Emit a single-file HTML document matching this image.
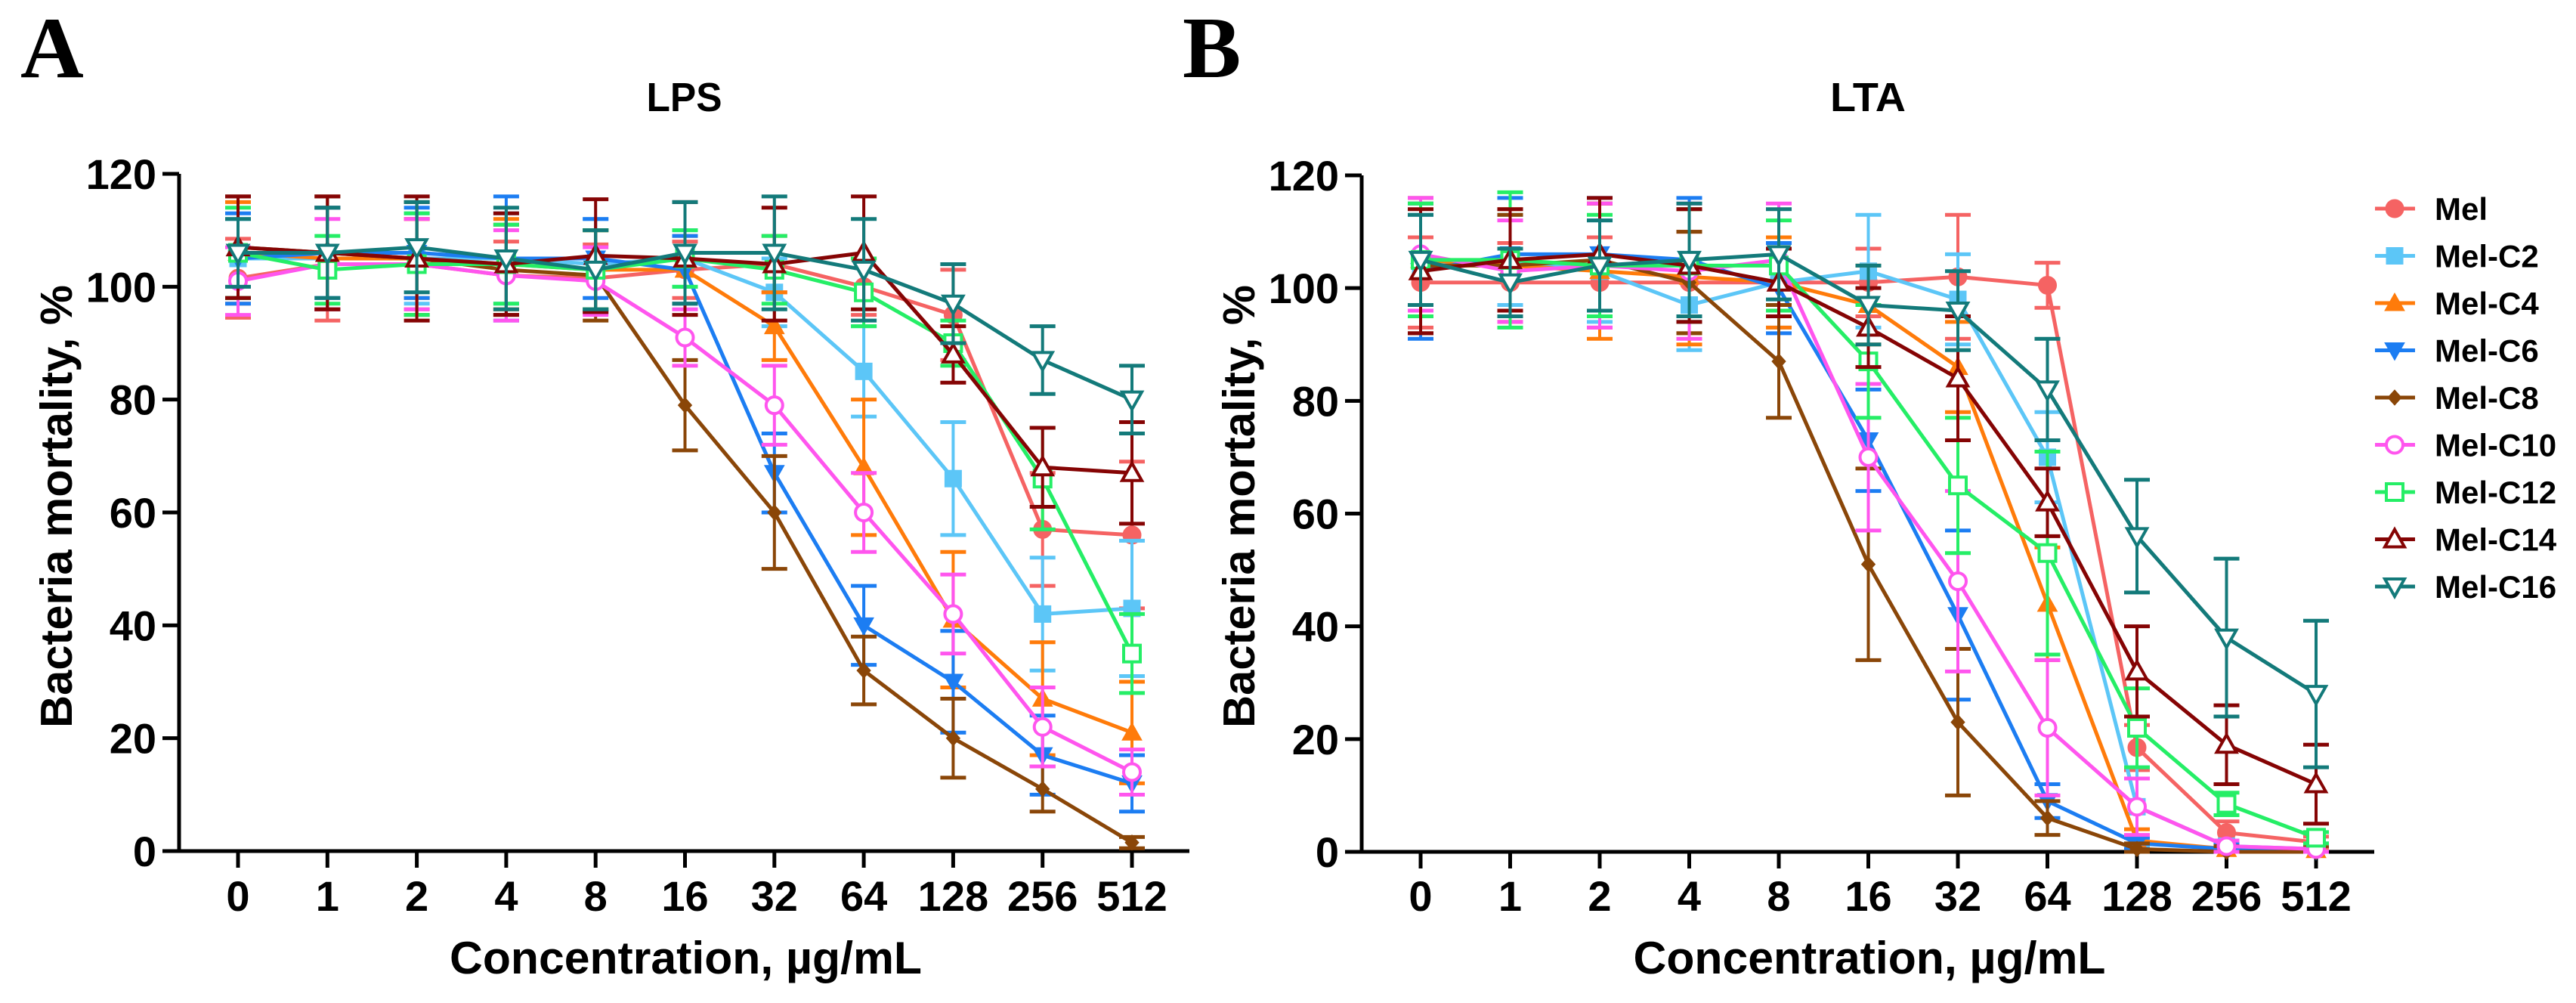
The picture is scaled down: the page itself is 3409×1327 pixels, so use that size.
<!DOCTYPE html>
<html><head><meta charset="utf-8">
<style>
html,body{margin:0;padding:0;background:#fff;}
svg{display:block;font-family:"Liberation Sans",Arial,sans-serif;}
</style></head>
<body>
<svg id="fig" width="3409" height="1327" viewBox="0 0 3409 1327" xmlns="http://www.w3.org/2000/svg">
<text x="27" y="102" font-family="Liberation Serif, serif" font-weight="bold" font-size="116">A</text>
<text x="1565" y="102" font-family="Liberation Serif, serif" font-weight="bold" font-size="116">B</text>
<g id="panelA"></g>
<g id="panelB"></g>
<g id="legend"></g>
</svg>
<script>
const categories = ["0","1","2","4","8","16","32","64","128","256","512"];
const yTicks = [0,20,40,60,80,100,120];
const seriesNames = ["Mel","Mel-C2","Mel-C4","Mel-C6","Mel-C8","Mel-C10","Mel-C12","Mel-C14","Mel-C16"];
const seriesColors = ["#f56363","#5cc6f7","#ff7b0a","#1c7df2","#8a4608","#ff55ee","#25ee66","#850404","#137a7a"];
const seriesMarkers = ["circle","square","tri","tridown","diamond","ocircle","osquare","otri","otridown"];

const lpsMel = [101.5,104,104,102,101.5,103,104,100,95,57,56];
const lpsC2 = [105,105,105,105,104,105,99,85,66,42,43];
const lpsC4 = [106,105,105,104,103,103,93,68,41,27,21];
const lpsC6 = [105,106,106,105,105,103,67,40,30,17,12];
const lpsC8 = [107,106,105,103,102,79,60,32,20,11,1.5];
const lpsC10 = [101,104,104,102,101,91,79,60,42,22,14];
const lpsC12 = [106,103,104,104,103,105,103,99,90,66,35];
const lpsC14 = [107,106,105,104,105.5,105,104,106,88,68,67];
const lpsC16 = [106,106,107,105,103,106,106,103,97,87,80];

const lpsErrMel = [7,10,8,6,6,5,5,5,8,10,13];
const lpsErrC2 = [7,9,8,8,8,5,6,8,10,10,12];
const lpsErrC4 = [9,9,7,8,7,6,6,12,12,10,9];
const lpsErrC6 = [8,8,8,11,7,6,7,7,9,7,5];
const lpsErrC8 = [9,10,10,8,8,8,10,6,7,4,1];
const lpsErrC10 = [6,8,8,8,6,5,7,7,7,7,4];
const lpsErrC12 = [8,6,9,7,7,5,6,6,4,9,7];
const lpsErrC14 = [9,10,11,9,10,10,10,10,5,7,9];
const lpsErrC16 = [6,8,8,9,7,9,10,9,7,6,6];

const ltaMel = [101,101,101,101,101,101,102,100.5,18.5,3.4,1.7];
const ltaC2 = [104,105,103,97,101,103,98,70,8,1,0.5];
const ltaC4 = [105,104,103,102,101,97,86,44,2,0.5,0.3];
const ltaC6 = [103,106,106,105,100,73,42,9,1.5,0.5,0.3];
const ltaC8 = [104,104,105,101,87,51,23,6,0.5,0,0];
const ltaC10 = [106,103,104,103,105,70,48,22,8,1,0.5];
const ltaC12 = [105,105,104,104,104,87,65,53,22,8.5,2.5];
const ltaC14 = [103,105,106,104,101,93,84,62,32,19,12];
const ltaC16 = [105,101,104,105,106,97,96,82,56,38,28];

const ltaErrMel = [8,7,8,9,6,6,11,4,4,2,1];
const ltaErrC2 = [9,8,9,8,8,10,8,8,7,1,1];
const ltaErrC4 = [10,10,12,12,8,7,8,10,2,1,1];
const ltaErrC6 = [12,10,10,11,8,9,15,3,1,1,1];
const ltaErrC8 = [12,9,10,9,10,17,13,3,1,1,1];
const ltaErrC10 = [10,9,11,12,10,13,16,12,5,1,1];
const ltaErrC12 = [10,12,9,10,8,10,12,18,7,2,1];
const ltaErrC14 = [11,9,10,10,6,7,11,6,8,7,7];
const ltaErrC16 = [8,6,8,10,8,7,7,9,10,14,13];

const lpsValues = [lpsMel,lpsC2,lpsC4,lpsC6,lpsC8,lpsC10,lpsC12,lpsC14,lpsC16];
const lpsErrors = [lpsErrMel,lpsErrC2,lpsErrC4,lpsErrC6,lpsErrC8,lpsErrC10,lpsErrC12,lpsErrC14,lpsErrC16];
const ltaValues = [ltaMel,ltaC2,ltaC4,ltaC6,ltaC8,ltaC10,ltaC12,ltaC14,ltaC16];
const ltaErrors = [ltaErrMel,ltaErrC2,ltaErrC4,ltaErrC6,ltaErrC8,ltaErrC10,ltaErrC12,ltaErrC14,ltaErrC16];

const NS = "http://www.w3.org/2000/svg";
function mk(tag, attrs, parent){
  const e = document.createElementNS(NS, tag);
  for (const k in attrs) e.setAttribute(k, attrs[k]);
  parent.appendChild(e);
  return e;
}
function marker(g, type, cx, cy, color){
  const r = 11;
  const open = type.startsWith("o");
  const base = open ? type.slice(1) : type;
  const fill = open ? "#fff" : color;
  const sw = open ? 4 : 1;
  let e;
  if (base === "circle") e = mk("circle",{cx:cx,cy:cy,r:open?11:12,fill:fill,stroke:color,"stroke-width":sw},g);
  else if (base === "square") e = mk("rect",{x:cx-r,y:cy-r,width:2*r,height:2*r,fill:fill,stroke:color,"stroke-width":sw},g);
  else if (base === "tri") e = mk("polygon",{points:`${cx},${cy-13} ${cx+13},${cy+10} ${cx-13},${cy+10}`,fill:fill,stroke:color,"stroke-width":sw},g);
  else if (base === "tridown") e = mk("polygon",{points:`${cx},${cy+13} ${cx+13},${cy-10} ${cx-13},${cy-10}`,fill:fill,stroke:color,"stroke-width":sw},g);
  else if (base === "diamond") e = mk("polygon",{points:`${cx},${cy-10} ${cx+9},${cy} ${cx},${cy+10} ${cx-9},${cy}`,fill:fill,stroke:color,"stroke-width":sw},g);
  return e;
}
function drawPanel(gid, title, values, errors, ax){
  const g = document.getElementById(gid);
  const {left, right, x0, dx, yTop, yBot} = ax;
  const xS = i => x0 + i*dx;
  const yS = v => yBot - (v/120)*(yBot-yTop);
  const t = mk("text",{x:(left+right)/2,y:147,"text-anchor":"middle","font-weight":"bold","font-size":54,"textLength":100,"lengthAdjust":"spacingAndGlyphs"},g);
  t.textContent = title;
  
  
  const axes = mk("g",{},g);
  
  
  mk("line",{x1:left,y1:yS(120),x2:left,y2:yBot+2.5,stroke:"#000","stroke-width":5},axes);
  mk("line",{x1:left-22,y1:yBot,x2:right,y2:yBot,stroke:"#000","stroke-width":5},axes);
  yTicks.forEach(v=>{
    const y = yS(v);
    mk("line",{x1:left-22,y1:y,x2:left,y2:y,stroke:"#000","stroke-width":5},axes);
    const tl = mk("text",{x:left-30,y:y+20,"text-anchor":"end","font-weight":"bold","font-size":56},axes);
    tl.textContent = v;
    
    
  });
  categories.forEach((c,i)=>{
    const x = xS(i);
    mk("line",{x1:x,y1:yBot,x2:x,y2:yBot+22,stroke:"#000","stroke-width":5},axes);
    const tl = mk("text",{x:x,y:1205,"text-anchor":"middle","font-weight":"bold","font-size":56},axes);
    tl.textContent = c;
    
    
  });
  const xt = mk("text",{x:(left+right)/2+2,y:1288,"text-anchor":"middle","font-weight":"bold","font-size":60,"textLength":625,"lengthAdjust":"spacingAndGlyphs"},g);
  xt.textContent = "Concentration, \u00b5g/mL";
  
  
  const yt = mk("text",{x:0,y:0,"text-anchor":"middle","font-weight":"bold","font-size":59,"textLength":586,"lengthAdjust":"spacingAndGlyphs",transform:`translate(${left-142},670) rotate(-90)`},g);
  yt.textContent = "Bacteria mortality, %";
  
  
  values.forEach((vals,s)=>{
    const col = seriesColors[s];
    const sg = mk("g",{},g);
    
    
    vals.forEach((v,i)=>{
      const e = errors[s][i];
      const x = xS(i);
      mk("line",{x1:x,y1:yS(v+e),x2:x,y2:yS(Math.max(v-e,0)),stroke:col,"stroke-width":4},sg);
      mk("line",{x1:x-17,y1:yS(v+e),x2:x+17,y2:yS(v+e),stroke:col,"stroke-width":5},sg);
      mk("line",{x1:x-17,y1:yS(Math.max(v-e,0)),x2:x+17,y2:yS(Math.max(v-e,0)),stroke:col,"stroke-width":5},sg);
    });
    const pts = vals.map((v,i)=>`${xS(i)},${yS(v)}`).join(" ");
    const pl = mk("polyline",{points:pts,fill:"none",stroke:col,"stroke-width":5,"stroke-linejoin":"round"},sg);
    
    
    vals.forEach((v,i)=>{
      const m = marker(sg, seriesMarkers[s], xS(i), yS(v), col);
      
      
    });
  });
}
drawPanel("panelA","LPS",lpsValues,lpsErrors,{left:237,right:1574,x0:315,dx:118.3,yTop:230,yBot:1126});
drawPanel("panelB","LTA",ltaValues,ltaErrors,{left:1802,right:3142,x0:1880,dx:118.5,yTop:232,yBot:1127});
const lg = document.getElementById("legend");
seriesNames.forEach((n,i)=>{
  const y = 276 + i*62.5;
  const it = mk("g",{},lg);
  
  
  mk("line",{x1:3143,y1:y,x2:3196,y2:y,stroke:seriesColors[i],"stroke-width":5},it);
  marker(it, seriesMarkers[i], 3169, y, seriesColors[i]);
  const t = mk("text",{x:3222,y:y+15,"font-weight":"bold","font-size":42},it);
  t.textContent = n;
});
</script>
</body></html>
